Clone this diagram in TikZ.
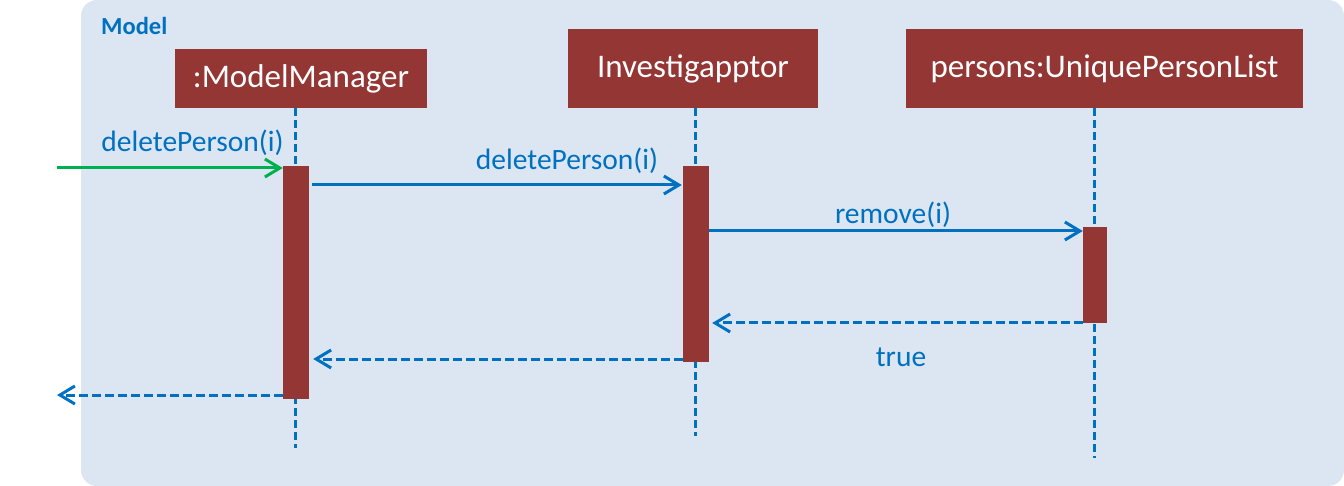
\documentclass[tikz,border=0pt]{standalone}
\usepackage{fontspec}
\setmainfont{Carlito}
\usetikzlibrary{arrows.meta}
\definecolor{panel}{HTML}{DCE6F2}
\definecolor{boxred}{HTML}{943634}
\definecolor{msgblue}{HTML}{0070C0}
\definecolor{callgreen}{HTML}{00B050}
\tikzset{
  objbox/.style={fill=boxred, text=white, inner sep=0pt, font=\fontsize{33}{38}\selectfont},
  actbar/.style={fill=boxred, inner sep=0pt, minimum width=26pt},
  lifeline/.style={draw=msgblue, line width=3pt, dash pattern=on 8pt off 4pt},
  tipV/.style={-{Straight Barb[length=15pt,width=18pt]}},
  msg/.style={draw=msgblue, line width=3pt, tipV},
  ret/.style={draw=msgblue, line width=3pt, dash pattern=on 9pt off 4pt, tipV},
  call/.style={draw=callgreen, line width=3pt, tipV},
  lbl/.style={text=msgblue, inner sep=0pt, font=\fontsize{29.5}{34}\selectfont},
}
\begin{document}
\begin{tikzpicture}[x=1pt,y=-1pt]
\useasboundingbox (0,0) rectangle (1344,486);
\fill[panel, rounded corners=16pt] (81,0) rectangle (1344,486);
\node[anchor=west, text=msgblue, inner sep=0pt, font=\fontsize{24.5}{28}\selectfont\bfseries] (title) at (101,26) {Model};

% objects
\node[objbox, minimum width=252pt, minimum height=59pt] (mm) at (301,78.5) {:ModelManager};
\node[objbox, minimum width=250pt, minimum height=79pt] (inv) at (693,68.5) {Investigapptor};
\node[objbox, minimum width=397pt, minimum height=79pt] (upl) at (1104.5,68.5) {persons:UniquePersonList};

% lifeline ends
\coordinate (mmEnd) at (295,448);
\coordinate (invEnd) at (695,436);
\coordinate (uplEnd) at (1094,458);
\draw[lifeline] (mm.south -| mmEnd) -- (mmEnd);
\draw[lifeline] (inv.south -| invEnd) -- (invEnd);
\draw[lifeline] (upl.south -| uplEnd) -- (uplEnd);

% activation bars
\node[actbar, minimum height=233pt] (a1) at (296,282.5) {};
\node[actbar, minimum height=196pt] (a2) at (696,264) {};
\node[actbar, minimum width=24pt, minimum height=96pt] (a3) at (1095,275) {};

% message levels
\coordinate (inStart) at (57,168);
\coordinate (outEnd) at (57,395);
\coordinate (y1) at (0,185);
\coordinate (y2) at (0,231);
\coordinate (y3) at (0,323);
\coordinate (y4) at (0,359);

\draw[call] (inStart) -- (inStart -| a1.west);
\draw[msg] ([xshift=3pt]a1.east |- y1) -- ([xshift=-1pt]a2.west |- y1);
\draw[msg] (a2.east |- y2) -- (a3.west |- y2);
\draw[ret] (a3.west |- y3) -- ([xshift=3pt]a2.east |- y3);
\draw[ret] (a2.west |- y4) -- ([xshift=4pt]a1.east |- y4);
\draw[ret] (a1.west |- outEnd) -- (outEnd);

% labels
\node[lbl] (l1) at (192.5,143) {deletePerson(i)};
\node[lbl] (l2) at (567,161) {deletePerson(i)};
\node[lbl] (l3) at (893,215) {remove(i)};
\node[lbl] (l4) at (901,357) {true};
\end{tikzpicture}
\end{document}
